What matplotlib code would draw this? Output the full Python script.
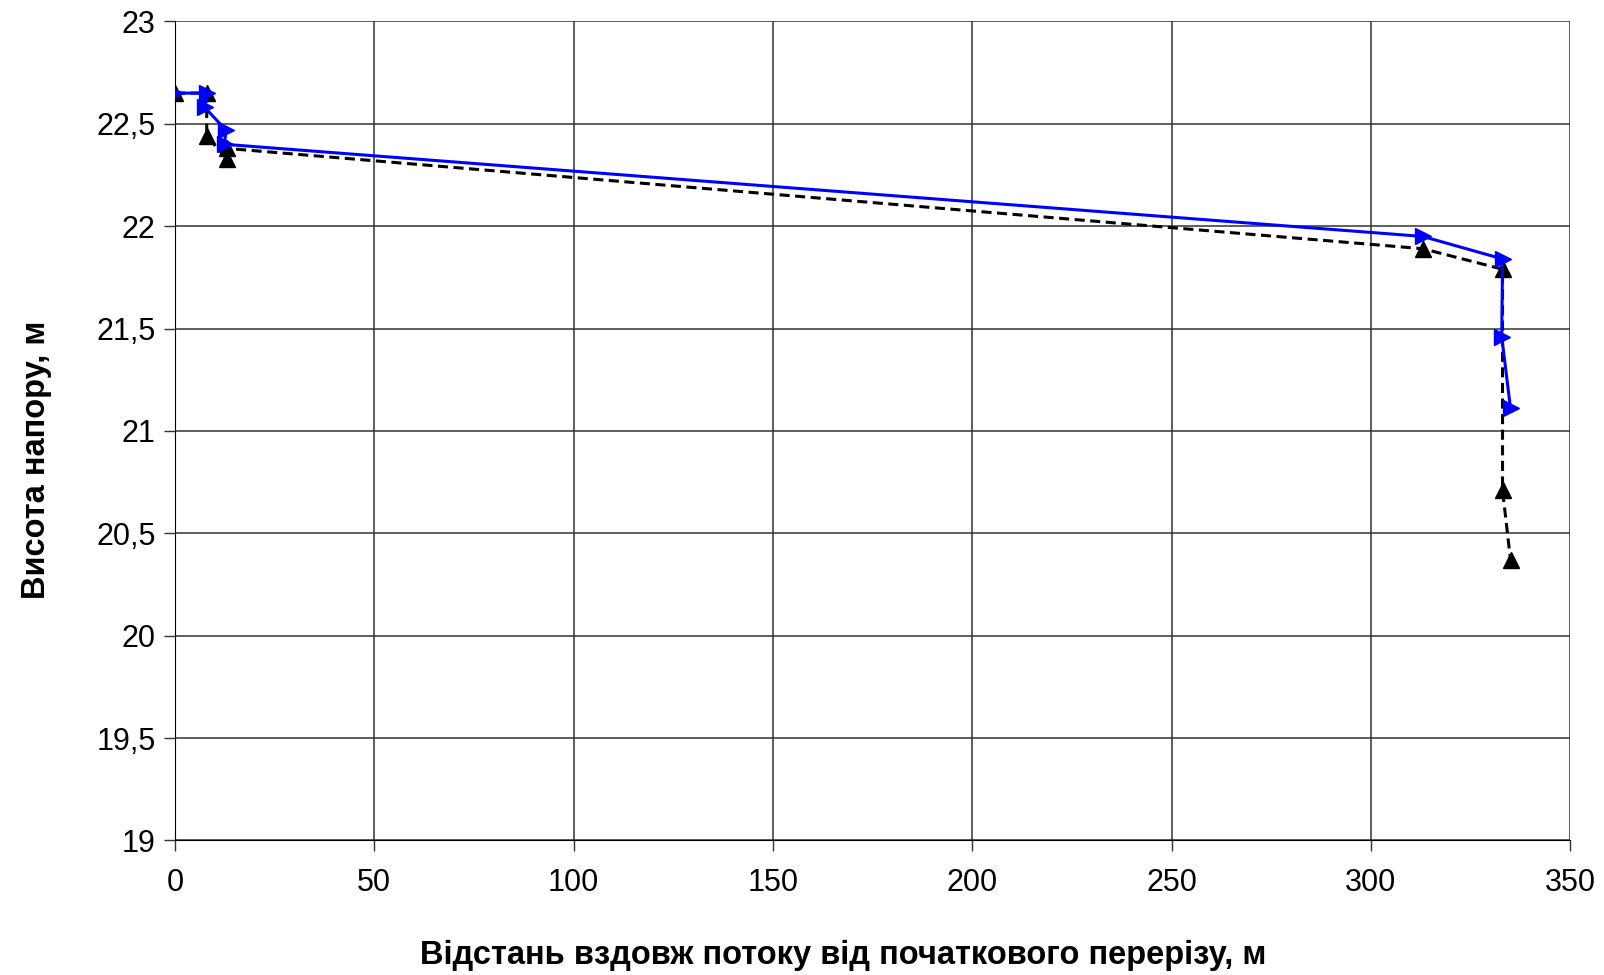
import matplotlib.pyplot as plt
from matplotlib.ticker import FuncFormatter

plt.rcParams['font.family'] = ['Liberation Sans', 'DejaVu Sans']

# Відстань, м і висота напору, м
x_blue = [0, 8, 7.5, 12.8, 12.5, 313, 333, 332.8, 335]
y_blue = [22.65, 22.65, 22.58, 22.47, 22.40, 21.95, 21.84, 21.46, 21.11]

x_black = [0, 8, 8, 13, 13, 313, 333, 333, 335]
y_black = [22.65, 22.65, 22.44, 22.33, 22.38, 21.89, 21.79, 20.71, 20.37]

fig = plt.figure(figsize=(16.04, 9.75), dpi=100)
ax = fig.add_axes([0.109, 0.138, 0.87, 0.84])

ax.plot(x_black, y_black, color='black', linestyle=(0, (3.3, 1.8)), linewidth=2.2,
        marker='^', markersize=12, zorder=3)
ax.plot(x_blue, y_blue, color='#0000ff', linestyle='-', linewidth=2.2,
        marker='>', markersize=12, zorder=4)

ax.set_xlim(0, 350)
ax.set_ylim(19, 23)
ax.set_xticks(range(0, 351, 50))
ax.set_yticks([19 + 0.5 * i for i in range(9)])
ax.yaxis.set_major_formatter(FuncFormatter(lambda v, p: ('%g' % v).replace('.', ',')))
ax.grid(True, color='#333333', linewidth=1.1)
ax.set_axisbelow(True)
for s in ['top', 'right']:
    ax.spines[s].set_visible(False)
ax.tick_params(direction='out', length=8, labelsize=22, width=1, color='#333333')
ax.tick_params(axis='y', pad=6)
ax.tick_params(axis='x', pad=12)

ax.set_xlabel('Відстань вздовж потоку від початкового перерізу, м', fontsize=23.5,
              fontweight='bold', labelpad=30)
ax.set_ylabel('Висота напору, м', fontsize=23.5, fontweight='bold', labelpad=32)
# підписи осей трохи зміщені від центру, як в оригіналі
ax.xaxis.label.set_x(0.479)
ax.yaxis.label.set_y(0.465)

plt.savefig('out.png', dpi=100)
